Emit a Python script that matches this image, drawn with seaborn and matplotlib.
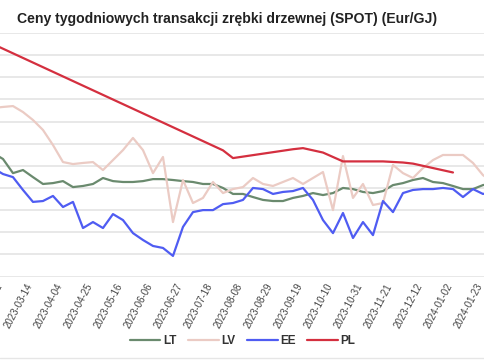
import pandas as pd
import numpy as np
import matplotlib
matplotlib.use("Agg")
import matplotlib.pyplot as plt
import matplotlib.dates as mdates
import matplotlib.transforms as mtransforms
from matplotlib.lines import Line2D
import seaborn as sns

### DATA (Eur/GJ, weekly)
start_date = "2023-02-14"
n_weeks = 51

lt_values = [7.58, 7.31, 6.67, 6.81, 6.49, 6.18, 6.22, 6.31, 6.04, 6.09,
             6.18, 6.45, 6.31, 6.27, 6.27, 6.31, 6.40, 6.40, 6.36, 6.31,
             6.27, 6.18, 6.18, 6.00, 5.73, 5.73, 5.59, 5.46, 5.41, 5.41,
             5.55, 5.64, 5.77, 5.68, 5.77, 6.00, 5.95, 5.82, 5.77, 5.86,
             6.13, 6.22, 6.36, 6.45, 6.27, 6.22, 6.09, 5.95, 5.95, 6.13, 6.20]

lv_values = [9.61, 9.66, 9.70, 9.43, 9.07, 8.62, 7.94, 7.17, 7.08, 7.13,
             7.17, 6.81, 7.26, 7.71, 8.26, 7.71, 6.67, 7.40, 4.46, 6.36,
             5.32, 5.55, 6.27, 5.77, 5.95, 6.04, 6.45, 6.18, 6.09, 6.27,
             6.45, 6.18, 6.45, 6.72, 5.00, 7.44, 5.55, 6.18, 5.23, 5.32,
             7.04, 6.67, 6.45, 6.90, 7.26, 7.49, 7.49, 7.49, 7.13, 6.58, 6.27]

ee_values = [6.90, 6.63, 6.49, 5.91, 5.37, 5.41, 5.64, 5.14, 5.37, 4.19,
             4.46, 4.19, 4.82, 4.55, 3.96, 3.65, 3.38, 3.29, 2.93, 4.24,
             4.91, 5.00, 5.00, 5.27, 5.32, 5.46, 6.00, 5.95, 5.73, 5.82,
             5.86, 6.00, 5.46, 4.55, 3.96, 4.87, 3.74, 4.46, 3.87, 5.41,
             4.91, 5.77, 5.91, 5.95, 5.95, 6.00, 5.95, 5.59, 5.95, 5.73, 5.82]

# PL only has a few reported weeks
pl_dates = ["2023-02-14", "2023-07-25", "2023-08-01", "2023-08-22", "2023-09-12",
            "2023-09-19", "2023-10-03", "2023-10-17", "2023-11-14", "2023-11-28",
            "2023-12-05", "2023-12-19", "2024-01-02"]
pl_values = [12.5, 7.7, 7.35, 7.55, 7.75, 7.8, 7.6, 7.2, 7.2, 7.15, 7.1, 6.9, 6.7]

title = "Ceny tygodniowych transakcji zrębki drzewnej (SPOT) (Eur/GJ)"
series_order = ["LT", "LV", "EE", "PL"]
colors = {"LT": "#6a8a6e", "LV": "#ebcbc4", "EE": "#4f5cf2", "PL": "#d42f3f"}

### BUILD LONG TABLE
weeks = pd.date_range(start_date, periods=n_weeks, freq="7D")
frames = []
for name, vals in [("LT", lt_values), ("LV", lv_values), ("EE", ee_values)]:
    frames.append(pd.DataFrame({"date": weeks, "price": vals, "kraj": name}))
frames.append(pd.DataFrame({"date": pd.to_datetime(pl_dates), "price": pl_values, "kraj": "PL"}))
df = pd.concat(frames, ignore_index=True)

### PLOT
sns.set_style("white")
plt.rcParams["font.family"] = ["Liberation Sans", "DejaVu Sans"]

fig = plt.figure(figsize=(4.85, 3.6), dpi=100)
ax = fig.add_axes([0.0, 0.2319, 1.0, 0.6764])

sns.lineplot(data=df, x="date", y="price", hue="kraj", hue_order=series_order,
             palette=colors, linewidth=1.6, ax=ax, legend=False)

ax.set_xlim(pd.Timestamp("2023-02-18 22:00"), pd.Timestamp("2024-01-24 10:00"))
ax.set_ylim(2, 13)
ax.set_yticks(np.arange(2, 13.1, 1))
ax.yaxis.grid(True, color="#e2e2e2", linewidth=1.1)
ax.set_axisbelow(True)
ax.tick_params(axis="y", left=False, labelleft=False)
for s in ax.spines.values():
    s.set_visible(False)

ticks = pd.date_range("2023-02-21", "2024-01-23", freq="21D")
ax.set_xticks(ticks)
ax.xaxis.set_major_formatter(mdates.DateFormatter("%Y-%m-%d"))
ax.tick_params(axis="x", bottom=False, pad=2, labelsize=6.9, colors="#444444")
shift = mtransforms.ScaledTranslation(-3 / 100, 0, fig.dpi_scale_trans)
for lbl in ax.get_xticklabels():
    lbl.set_rotation(62)
    lbl.set_ha("right")
    lbl.set_va("center")
    lbl.set_rotation_mode("anchor")
    lbl.set_transform(lbl.get_transform() + shift)
ax.set_xlabel("")
ax.set_ylabel("")

fig.text(0.035, 0.948, title, fontsize=10.1, fontweight="bold", color="#222222",
         ha="left", va="center")

handles = [Line2D([0], [0], color=colors[k], linewidth=1.6) for k in series_order]
leg = fig.legend(handles, series_order, loc="center", bbox_to_anchor=(0.5, 0.052),
                 ncol=4, frameon=False, handlelength=2.6, handletextpad=0.2,
                 columnspacing=1.0, prop={"weight": "bold", "size": 8.5})
for t in leg.get_texts():
    t.set_color("#333333")

fig.add_artist(Line2D([0, 1], [0.006, 0.006], color="#e6e6e6", linewidth=1.0,
                      transform=fig.transFigure))

fig.savefig("out.png", dpi=100)
